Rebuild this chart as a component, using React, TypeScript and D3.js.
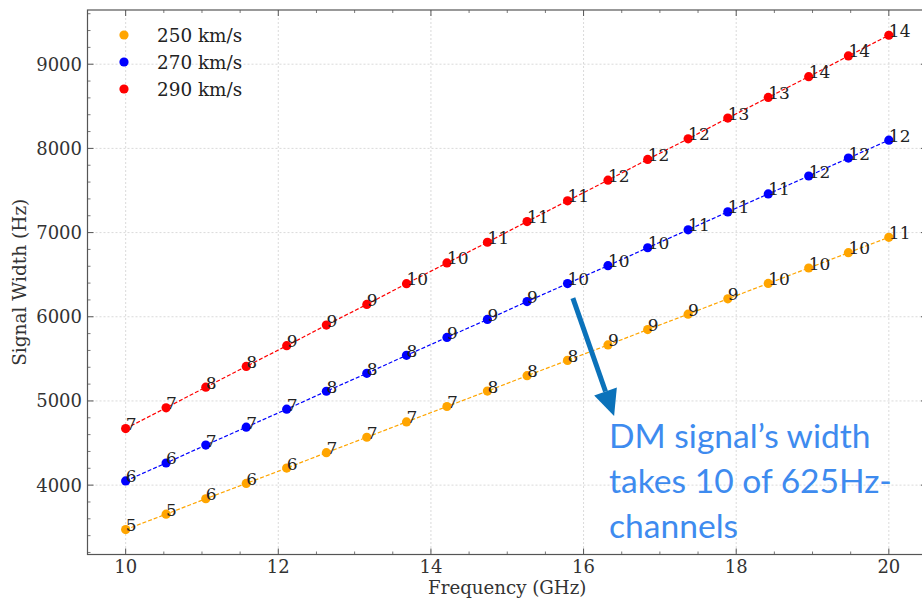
import React from "react";
import * as d3 from "d3";

const freqs = [10, 10.53, 11.05, 11.58, 12.11, 12.63, 13.16, 13.68, 14.21, 14.74, 15.26, 15.79, 16.32, 16.84, 17.37, 17.89, 18.42, 18.95, 19.47, 20];
const w250 = [3472, 3655, 3838, 4020, 4203, 4386, 4569, 4751, 4934, 5117, 5300, 5482, 5665, 5848, 6031, 6213, 6396, 6579, 6761, 6944];
const w270 = [4050, 4263, 4476, 4689, 4902, 5115, 5328, 5542, 5755, 5968, 6181, 6394, 6607, 6820, 7033, 7246, 7459, 7672, 7885, 8098];
const w290 = [4672, 4918, 5164, 5410, 5656, 5901, 6147, 6393, 6639, 6885, 7131, 7377, 7623, 7869, 8114, 8360, 8606, 8852, 9098, 9344];
const lab250 = ["5", "5", "6", "6", "6", "7", "7", "7", "7", "8", "8", "8", "9", "9", "9", "9", "10", "10", "10", "11"];
const lab270 = ["6", "6", "7", "7", "7", "8", "8", "8", "9", "9", "9", "10", "10", "10", "11", "11", "11", "12", "12", "12"];
const lab290 = ["7", "7", "8", "8", "9", "9", "9", "10", "10", "11", "11", "11", "12", "12", "12", "13", "13", "14", "14", "14"];
const seriesNames = ["250 km/s", "270 km/s", "290 km/s"];
const seriesColors = ["#FFA500", "#0000FF", "#FF0000"];
const xTicks = [10, 12, 14, 16, 18, 20];
const yTicks = [4000, 5000, 6000, 7000, 8000, 9000];
const noteLines = ["DM signal\u2019s width", "takes 10 of 625Hz-", "channels"];
const arrowFrom = [15.86, 6222];
const arrowTo = [16.4, 4821];

const W = 922, H = 601;
const L = 87.5, R = 927, T = 10, B = 554.5;

export default function App() {
  const x = d3.scaleLinear().domain([9.5, 20.5]).range([L, R]);
  const y = d3.scaleLinear().domain([3176, 9644]).range([B, T]);
  const series = [
    { vals: w250, labs: lab250 },
    { vals: w270, labs: lab270 },
    { vals: w290, labs: lab290 },
  ];
  const line = d3.line<number>().x((_, i) => x(freqs[i])).y((d) => y(d));
  const xMinor = d3.range(9.5, 20.51, 0.5).filter((v) => Math.abs(v - Math.round(v / 2) * 2) > 1e-6);
  const yMinor = d3.range(3200, 9644, 200).filter((v) => v % 1000 !== 0);
  const serif = "'DejaVu Serif', serif";
  const axisCol = "#555";

  const ax0 = x(arrowFrom[0]), ay0 = y(arrowFrom[1]);
  const ax1 = x(arrowTo[0]), ay1 = y(arrowTo[1]);
  const ang = Math.atan2(ay1 - ay0, ax1 - ax0);
  const headLen = 26, headW = 12;
  const bx = ax1 - headLen * Math.cos(ang), by = ay1 - headLen * Math.sin(ang);
  const px = -Math.sin(ang), py = Math.cos(ang);

  return (
    <svg width={W} height={H} style={{ position: "absolute", left: 0, top: 0, background: "#fff" }}>
      <rect x={0} y={0} width={W} height={H} fill="#fff" />
      {/* grid */}
      {xTicks.map((t) => (
        <line key={"gx" + t} x1={x(t)} x2={x(t)} y1={T} y2={B} stroke="#d0d0d0" strokeWidth={0.8} strokeDasharray="2,2" />
      ))}
      {yTicks.map((t) => (
        <line key={"gy" + t} x1={L} x2={R} y1={y(t)} y2={y(t)} stroke="#d0d0d0" strokeWidth={0.8} strokeDasharray="2,2" />
      ))}
      {/* series */}
      {series.map((s, si) => (
        <g key={"s" + si}>
          <path d={line(s.vals) || ""} fill="none" stroke={seriesColors[si]} strokeWidth={1.2} strokeDasharray="4,2" />
          {s.vals.map((v, i) => (
            <circle key={i} cx={x(freqs[i])} cy={y(v)} r={4.6} fill={seriesColors[si]} />
          ))}
          {s.vals.map((v, i) => (
            <text key={"t" + i} x={x(freqs[i])} y={y(v) + 1.5} fontFamily={serif} fontSize={17} fill="#222">
              {s.labs[i]}
            </text>
          ))}
        </g>
      ))}
      {/* frame */}
      <rect x={L} y={T} width={R - L} height={B - T} fill="none" stroke={axisCol} strokeWidth={1.2} />
      {/* ticks */}
      {xTicks.map((t) => (
        <g key={"xt" + t}>
          <line x1={x(t)} x2={x(t)} y1={B} y2={B - 6} stroke={axisCol} strokeWidth={1} />
          <line x1={x(t)} x2={x(t)} y1={T} y2={T + 6} stroke={axisCol} strokeWidth={1} />
          <text x={x(t)} y={573} textAnchor="middle" fontFamily={serif} fontSize={18} fill="#333">{t}</text>
        </g>
      ))}
      {xMinor.map((t) => (
        <g key={"xm" + t}>
          <line x1={x(t)} x2={x(t)} y1={B} y2={B - 3} stroke={axisCol} strokeWidth={0.8} />
          <line x1={x(t)} x2={x(t)} y1={T} y2={T + 3} stroke={axisCol} strokeWidth={0.8} />
        </g>
      ))}
      {yTicks.map((t) => (
        <g key={"yt" + t}>
          <line x1={L} x2={L + 6} y1={y(t)} y2={y(t)} stroke={axisCol} strokeWidth={1} />
          <line x1={R} x2={R - 6} y1={y(t)} y2={y(t)} stroke={axisCol} strokeWidth={1} />
          <text x={82} y={y(t)} dy="0.36em" textAnchor="end" fontFamily={serif} fontSize={18} fill="#333">{t}</text>
        </g>
      ))}
      {yMinor.map((t) => (
        <g key={"ym" + t}>
          <line x1={L} x2={L + 3} y1={y(t)} y2={y(t)} stroke={axisCol} strokeWidth={0.8} />
          <line x1={R} x2={R - 3} y1={y(t)} y2={y(t)} stroke={axisCol} strokeWidth={0.8} />
        </g>
      ))}
      {/* axis labels */}
      <text x={(L + R) / 2} y={594} textAnchor="middle" fontFamily={serif} fontSize={18.2} fill="#333">Frequency (GHz)</text>
      <text transform={`translate(26, ${(T + B) / 2}) rotate(-90)`} textAnchor="middle" fontFamily={serif} fontSize={18.5} fill="#333">Signal Width (Hz)</text>
      {/* legend */}
      {seriesNames.map((n, i) => (
        <g key={"lg" + i}>
          <circle cx={124} cy={35 + i * 27} r={4.6} fill={seriesColors[i]} />
          <text x={157} y={35 + i * 27} dy="0.36em" fontFamily={serif} fontSize={18.4} fill="#222">{n}</text>
        </g>
      ))}
      {/* annotation arrow */}
      <line x1={ax0} y1={ay0} x2={bx} y2={by} stroke="#0B72BA" strokeWidth={5} />
      <polygon
        points={`${ax1},${ay1} ${bx + px * headW},${by + py * headW} ${bx - px * headW},${by - py * headW}`}
        fill="#0B72BA"
      />
      {noteLines.map((t, i) => (
        <text key={"n" + i} x={609} y={448 + i * 45} fontFamily="Lato, 'Open Sans', sans-serif" fontSize={33.6} fill="#3E8BEF">{t}</text>
      ))}
    </svg>
  );
}
